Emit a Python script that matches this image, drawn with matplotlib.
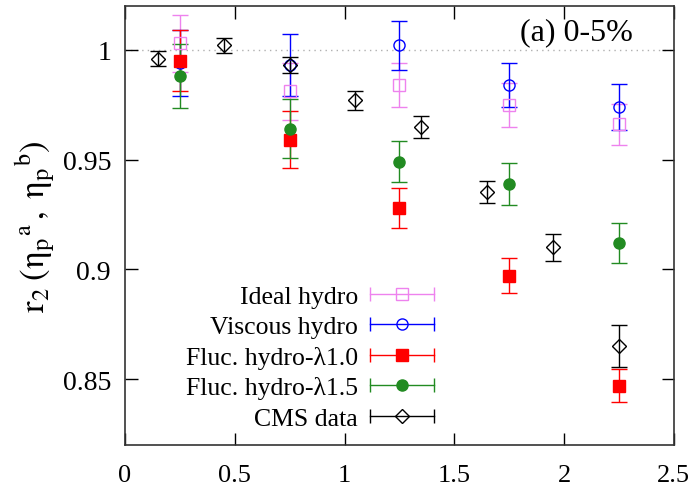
import numpy as np
import matplotlib
matplotlib.use('Agg')
import matplotlib.pyplot as plt
from matplotlib.lines import Line2D
from matplotlib.legend_handler import HandlerBase

plt.rcParams['font.family'] = ['Liberation Serif', 'DejaVu Serif']
plt.rcParams['mathtext.fontset'] = 'stix'

# eta_p bins
x_model = [0.25, 0.75, 1.25, 1.75, 2.25]
x_cms = [0.15, 0.45, 0.75, 1.05, 1.35, 1.65, 1.95, 2.25]

ideal = [1.003, 0.981, 0.984, 0.975, 0.966]
ideal_err = [0.013, 0.013, 0.010, 0.010, 0.0095]
viscous = [0.994, 0.993, 1.002, 0.984, 0.974]
viscous_err = [0.015, 0.014, 0.011, 0.010, 0.0105]
fluc10 = [0.995, 0.959, 0.928, 0.897, 0.847]
fluc10_err = [0.014, 0.013, 0.009, 0.008, 0.0076]
fluc15 = [0.988, 0.964, 0.949, 0.939, 0.912]
fluc15_err = [0.0145, 0.0135, 0.0094, 0.0095, 0.009]
cms = [0.996, 1.002, 0.993, 0.977, 0.965, 0.935, 0.910, 0.865]
cms_err = [0.0035, 0.0034, 0.0037, 0.0043, 0.005, 0.005, 0.006, 0.0095]

series = [
    ('Ideal hydro', x_model, ideal, ideal_err, '#ee82ee', 's', 'none'),
    ('Viscous hydro', x_model, viscous, viscous_err, '#0000ff', 'o', 'none'),
    ('Fluc. hydro-\u03bb1.0', x_model, fluc10, fluc10_err, '#ff0000', 's', 'full'),
    ('Fluc. hydro-\u03bb1.5', x_model, fluc15, fluc15_err, '#228b22', 'o', 'full'),
    ('CMS data', x_cms, cms, cms_err, '#000000', 'D', 'none'),
]


class HandlerXBar(HandlerBase):
    # gnuplot-like key sample: horizontal bar with end caps and marker in the middle
    def create_artists(self, legend, orig, xdescent, ydescent, width, height, fontsize, trans):
        c = orig.get_color()
        y = height / 2 - ydescent
        x0, x1 = -xdescent, width - xdescent
        line = Line2D([x0, x1], [y, y], color=c, lw=1.0, transform=trans)
        caps = Line2D([x0, x1], [y, y], ls='none', marker='|', ms=10, mew=1.0,
                      color=c, transform=trans)
        mk = Line2D([(x0 + x1) / 2], [y], ls='none', marker=orig.get_marker(),
                    ms=orig.get_markersize(), mfc=orig.get_markerfacecolor(),
                    mec=c, mew=1.0, transform=trans)
        return [line, caps, mk]


fig = plt.figure(figsize=(6.94, 4.89), dpi=100)
ax = fig.add_axes([0.180, 0.088, 0.791, 0.898])

ax.axhline(1.0, color='#b0b0b0', lw=1.0, ls=(0, (1, 3)), zorder=0)

handles = []
for label, xs, ys, es, col, mk, fill in series:
    ms = 7 if mk == 'D' else 8
    mfc = col if fill == 'full' else 'none'
    ax.errorbar(xs, ys, yerr=es, fmt=mk, color=col, ecolor=col, elinewidth=1.0,
                capsize=6, capthick=1.0, ms=ms, mfc=mfc, mec=col, mew=1.0)
    handles.append(Line2D([], [], color=col, marker=mk, ms=ms, mfc=mfc, label=label))

ax.set_xlim(0, 2.5)
ax.set_ylim(0.82, 1.02)
ax.set_xticks([0, 0.5, 1, 1.5, 2, 2.5])
ax.set_xticklabels(['0', '0.5', '1', '1.5', '2', '2.5'])
ax.set_yticks([0.85, 0.9, 0.95, 1.0])
ax.set_yticklabels(['0.85', '0.9', '0.95', '1'])
ax.tick_params(direction='in', length=9, width=1, top=True, right=True, labelsize=20)
ax.tick_params(axis='x', pad=13.5, labelsize=19)
ax.tick_params(axis='y', pad=10)
for s in ax.spines.values():
    s.set_linewidth(1.2)
    s.set_color('#333333')

ax.set_ylabel(r'$\mathrm{r}_2\;(\mathrm{\eta_p}{}^\mathrm{a}\,,\;\mathrm{\eta_p}{}^\mathrm{b})$',
              fontsize=25, labelpad=5)

ax.text(0.925, 0.94, '(a) 0-5%', transform=ax.transAxes, ha='right', va='center',
        fontsize=23)

ax.legend(handles=handles, loc='lower right', bbox_to_anchor=(0.563, 0.035),
          frameon=False, markerfirst=False, fontsize=18.5, handlelength=2.5,
          handletextpad=0.45, labelspacing=0.29, borderpad=0, borderaxespad=0,
          handler_map={Line2D: HandlerXBar()})

fig.savefig('out.png', dpi=100)
